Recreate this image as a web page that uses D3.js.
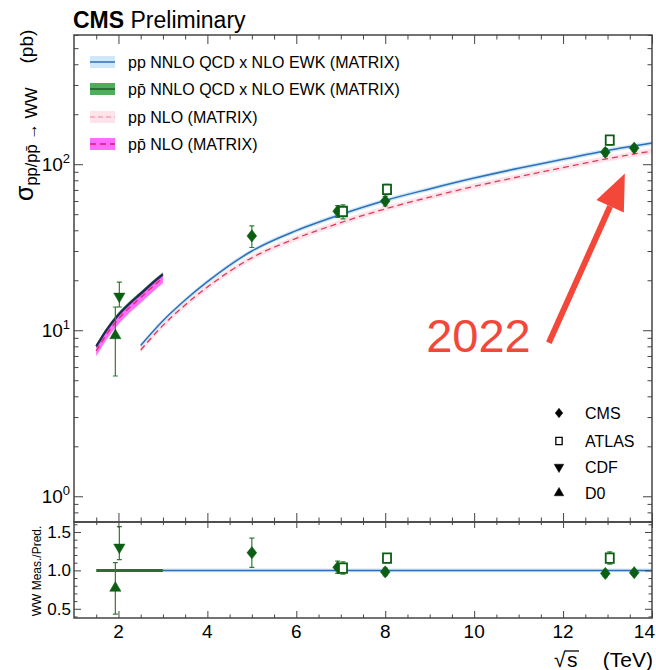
<!DOCTYPE html>
<html>
<head>
<meta charset="utf-8">
<script src="https://cdn.jsdelivr.net/npm/d3@7"></script>
<style>
  body { margin: 0; background: #fff; }
  svg { font-family: "Liberation Sans", Arial, sans-serif; }
</style>
</head>
<body>
<div id="chart"></div>
<script>
var W = 656, H = 670;

// theory curves, sqrt(s) in TeV, sigma in pb
var ppEnergy   = [2.5, 3, 3.5, 4, 5, 6, 7, 8, 9, 10, 11, 12, 13, 14];
var ppNNLO     = [8.1, 11.4, 15.2, 19.6, 30, 39.8, 49.8, 60.5, 71, 82.5, 94.5, 107, 121, 134];
var ppNLO      = [7.6, 10.7, 14.2, 18.2, 27.3, 35.8, 44.5, 53.8, 63.3, 73.5, 84, 95.5, 108, 120];
var ppbarEnergy = [1.5, 1.75, 2, 2.25, 2.5, 2.75, 3];
var ppbarNNLO   = [8.0, 10.2, 12.4, 14.5, 16.6, 19.1, 21.7];
var ppbarNLO    = [7.5, 9.6, 11.7, 13.7, 15.7, 18.1, 20.6];

// measurements
var cmsEnergy = [5, 6.93, 8, 12.95, 13.6];
var cmsXsec   = [37.0, 52.1, 60.0, 118, 125];
var cmsErr    = [5.5, 4.2, 4.0, 6, 5];
var cmsRatio    = [1.23, 1.04, 0.98, 0.96, 0.97];
var cmsRatioErr = [0.19, 0.08, 0.05, 0.04, 0.03];

var atlasEnergy = [7.05, 8.04, 13.05];
var atlasXsec   = [51.9, 70.6, 139.6];
var atlasErr    = [5, 5, 9];
var atlasRatio    = [1.03, 1.16, 1.16];
var atlasRatioErr = [0.08, 0.06, 0.08];

var cdfEnergy = [2.02];
var cdfXsec = [16.0], cdfUp = [3.5], cdfDn = [2.2];
var cdfRatio = [1.30], cdfRatioUp = [0.27], cdfRatioDn = [0.16];

var d0Energy = [1.93];
var d0Xsec = [9.3], d0Up = [4.5], d0Dn = [4.0];
var d0Ratio = [0.77], d0RatioUp = [0.33], d0RatioDn = [0.34];

var legendLabels = ["pp NNLO QCD x NLO EWK (MATRIX)", "pp\u0304 NNLO QCD x NLO EWK (MATRIX)",
                    "pp NLO (MATRIX)", "pp\u0304 NLO (MATRIX)"];
var expLabels = ["CMS", "ATLAS", "CDF", "D0"];

var xTicks = [2, 4, 6, 8, 10, 12, 14];
var yTicks = [1, 10, 100];
var rTicks = [0.5, 1.0, 1.5];

var green = "#0b5e12", errGreen = "#2f7d32";

var svg = d3.select("#chart").append("svg")
    .attr("width", W)
    .attr("height", H);

var L = 74, R = 652, T = 35, M = 522, B = 618;

var x = d3.scaleLinear().domain([1, 14]).range([L, R]);
var y = d3.scaleLog().domain([0.7, 600]).range([M, T]);
var yr = d3.scaleLinear().domain([0.38, 1.63]).range([B, M]);

function zip(xs, ys) { return xs.map(function(e, i) { return {e: e, v: ys[i]}; }); }

// ---------- theory bands and lines, main panel ----------
var main = svg.append("g");

function band(g, xs, vs, rel, fill, op) {
  var area = d3.area().curve(d3.curveMonotoneX)
      .x(function(d) { return x(d.e); })
      .y0(function(d) { return y(d.v * (1 - rel)); })
      .y1(function(d) { return y(d.v * (1 + rel)); });
  g.append("path").datum(zip(xs, vs))
      .attr("d", area).attr("fill", fill).attr("opacity", op);
}
function curve(g, xs, vs, color, w, dash) {
  var line = d3.line().curve(d3.curveMonotoneX)
      .x(function(d) { return x(d.e); })
      .y(function(d) { return y(d.v); });
  g.append("path").datum(zip(xs, vs))
      .attr("d", line).attr("fill", "none")
      .attr("stroke", color).attr("stroke-width", w)
      .attr("stroke-dasharray", dash || null);
}

band(main, ppEnergy, ppNLO, 0.04, "#fde3ea", 1);
band(main, ppEnergy, ppNNLO, 0.03, "#cfe8f8", 1);
curve(main, ppEnergy, ppNLO, "#dd3b5a", 1.3, "6,4");
curve(main, ppEnergy, ppNNLO, "#2f6fb8", 1.5);

band(main, ppbarEnergy, ppbarNNLO, 0.03, "#4fae5b", 1);
band(main, ppbarEnergy, ppbarNLO, 0.07, "#ff3cff", 0.75);
curve(main, ppbarEnergy, ppbarNLO, "#e0306e", 1.4, "6,4");
curve(main, ppbarEnergy, ppbarNNLO, "#1d2a55", 2.2);

// ---------- ratio panel lines ----------
var ratio = svg.append("g");
ratio.append("rect")
    .attr("x", x(3)).attr("width", x(14) - x(3))
    .attr("y", yr(1.025)).attr("height", yr(0.975) - yr(1.025))
    .attr("fill", "#cfe8f8");
ratio.append("line")
    .attr("x1", x(3)).attr("x2", x(14))
    .attr("y1", yr(1)).attr("y2", yr(1))
    .attr("stroke", "#2f6fb8").attr("stroke-width", 1.5);
ratio.append("line")
    .attr("x1", x(1.5)).attr("x2", x(3))
    .attr("y1", yr(1)).attr("y2", yr(1))
    .attr("stroke", "#2e6b3a").attr("stroke-width", 3);

// ---------- markers ----------
var wideDiamond = {
  draw: function(ctx, size) {
    var h = Math.sqrt(size) / 2;
    ctx.moveTo(0, -h); ctx.lineTo(h * 0.8, 0); ctx.lineTo(0, h); ctx.lineTo(-h * 0.8, 0); ctx.closePath();
  }
};
var openSquare = {
  draw: function(ctx, size) {
    var h = Math.sqrt(size) / 2;
    ctx.moveTo(-h * 0.85, -h); ctx.lineTo(h * 0.85, -h); ctx.lineTo(h * 0.85, h); ctx.lineTo(-h * 0.85, h); ctx.closePath();
  }
};

function errBars(g, pts, sy) {
  g.selectAll(null).data(pts).enter().append("path")
      .attr("d", function(d) {
        var px = x(d.e), a = sy(d.hi), b = sy(d.lo);
        return "M" + px + "," + a + "V" + b +
               "M" + (px - 2.5) + "," + a + "H" + (px + 2.5) +
               "M" + (px - 2.5) + "," + b + "H" + (px + 2.5);
      })
      .attr("stroke", errGreen).attr("stroke-width", 1.2).attr("fill", "none");
}

function series(g, sy, xs, vs, up, dn, type, size, rot, open) {
  var pts = xs.map(function(e, i) { return {e: e, v: vs[i], hi: vs[i] + up[i], lo: vs[i] - dn[i]}; });
  errBars(g, pts, sy);
  g.selectAll(null).data(pts).enter().append("path")
      .attr("d", d3.symbol().type(type).size(size))
      .attr("transform", function(d) { return "translate(" + x(d.e) + "," + sy(d.v) + ") rotate(" + rot + ")"; })
      .attr("fill", open ? "#fff" : green)
      .attr("stroke", green)
      .attr("stroke-width", open ? 1.8 : 0.5);
}

var pm = svg.append("g"), pr = svg.append("g");
series(pm, y, cmsEnergy, cmsXsec, cmsErr, cmsErr, wideDiamond, 150, 0, false);
series(pm, y, atlasEnergy, atlasXsec, atlasErr, atlasErr, openSquare, 90, 0, true);
series(pm, y, cdfEnergy, cdfXsec, cdfUp, cdfDn, d3.symbolTriangle, 55, 180, false);
series(pm, y, d0Energy, d0Xsec, d0Up, d0Dn, d3.symbolTriangle, 55, 0, false);

series(pr, yr, cmsEnergy, cmsRatio, cmsRatioErr, cmsRatioErr, wideDiamond, 150, 0, false);
series(pr, yr, atlasEnergy, atlasRatio, atlasRatioErr, atlasRatioErr, openSquare, 90, 0, true);
series(pr, yr, cdfEnergy, cdfRatio, cdfRatioUp, cdfRatioDn, d3.symbolTriangle, 55, 180, false);
series(pr, yr, d0Energy, d0Ratio, d0RatioUp, d0RatioDn, d3.symbolTriangle, 55, 0, false);

// ---------- frames and ticks ----------
var frameColor = "#444";
function tickAxis(axis, tx, ty, vals, len) {
  var g = svg.append("g").attr("transform", "translate(" + tx + "," + ty + ")")
      .call(axis.tickValues(vals).tickSizeInner(len).tickSizeOuter(0).tickFormat(""));
  g.select(".domain").remove();
  g.selectAll(".tick line").attr("stroke", frameColor).attr("stroke-width", 1);
  return g;
}
var xMinor = d3.range(1.5, 14.01, 0.5).filter(function(v) { return v % 2 !== 0; });
var yMinor = [0.7, 0.8, 0.9, 2, 3, 4, 5, 6, 7, 8, 9, 20, 30, 40, 50, 60, 70, 80, 90, 200, 300, 400, 500, 600];
var rMinor = d3.range(0.4, 1.61, 0.1).filter(function(v) { return Math.abs(v * 2 - Math.round(v * 2)) > 0.01; });

// main panel x ticks (top and bottom)
tickAxis(d3.axisTop(x), 0, T, xTicks, -9);
tickAxis(d3.axisTop(x), 0, T, xMinor, -4.5);
tickAxis(d3.axisBottom(x), 0, M, xTicks, -9);
tickAxis(d3.axisBottom(x), 0, M, xMinor, -4.5);
// main panel y ticks (left and right)
tickAxis(d3.axisLeft(y), L, 0, yTicks, -9);
tickAxis(d3.axisLeft(y), L, 0, yMinor, -4.5);
tickAxis(d3.axisRight(y), R, 0, yTicks, -9);
tickAxis(d3.axisRight(y), R, 0, yMinor, -4.5);
// ratio panel ticks
tickAxis(d3.axisTop(x), 0, M, xTicks, -6);
tickAxis(d3.axisTop(x), 0, M, xMinor, -3);
tickAxis(d3.axisBottom(x), 0, B, xTicks, -7);
tickAxis(d3.axisBottom(x), 0, B, xMinor, -3.5);
tickAxis(d3.axisLeft(yr), L, 0, rTicks, -7);
tickAxis(d3.axisLeft(yr), L, 0, rMinor, -3.5);
tickAxis(d3.axisRight(yr), R, 0, rTicks, -7);
tickAxis(d3.axisRight(yr), R, 0, rMinor, -3.5);

svg.append("rect").attr("x", L).attr("y", T).attr("width", R - L).attr("height", M - T)
    .attr("fill", "none").attr("stroke", frameColor).attr("stroke-width", 1.5);
svg.append("rect").attr("x", L).attr("y", M).attr("width", R - L).attr("height", B - M)
    .attr("fill", "none").attr("stroke", frameColor).attr("stroke-width", 1.5);

// x tick labels (last one pulled in so it stays on the page)
svg.append("g").selectAll("text").data(xTicks).enter().append("text")
    .attr("x", function(d) { return d === 14 ? 655 : x(d); })
    .attr("y", 638)
    .attr("text-anchor", function(d) { return d === 14 ? "end" : "middle"; })
    .attr("font-size", 19)
    .text(function(d) { return d; });

// y tick labels (10^n)
var yl = svg.append("g").selectAll("text").data(yTicks).enter().append("text")
    .attr("x", 70)
    .attr("y", function(d) { return y(d) + 7; })
    .attr("text-anchor", "end")
    .attr("font-size", 19);
yl.append("tspan").text("10");
yl.append("tspan").attr("dy", -8).attr("font-size", 13)
    .text(function(d) { return Math.round(Math.log10(d)); });

// ratio tick labels
svg.append("g").selectAll("text").data(rTicks).enter().append("text")
    .attr("x", 71)
    .attr("y", function(d) { return yr(d) + 6; })
    .attr("text-anchor", "end")
    .attr("font-size", 17)
    .text(function(d) { return d.toFixed(1); });

// axis titles
svg.append("text").attr("x", 554).attr("y", 667).attr("font-size", 21).text("\u221A");
svg.append("text").attr("x", 567).attr("y", 667).attr("font-size", 21).text("s");
svg.append("line").attr("x1", 565).attr("x2", 579).attr("y1", 651).attr("y2", 651)
    .attr("stroke", "#000").attr("stroke-width", 1.3);
svg.append("text").attr("x", 653).attr("y", 667)
    .attr("text-anchor", "end").attr("font-size", 21).text("(TeV)");

var yt = svg.append("text")
    .attr("transform", "translate(33,201) rotate(-90)")
    .attr("font-size", 19);
yt.append("tspan").attr("font-size", 25).text("\u03c3");
yt.append("tspan").attr("dy", 4).attr("font-size", 16.5).text("pp/pp\u0304 \u2192 WW");
yt.append("tspan").attr("dy", -4).attr("dx", 24).text("(pb)");

svg.append("text")
    .attr("transform", "translate(41,571) rotate(-90)")
    .attr("text-anchor", "middle")
    .attr("font-size", 12)
    .text("WW Meas./Pred.");

// header
var hdr = svg.append("text").attr("x", 73).attr("y", 28).attr("font-size", 23);
hdr.append("tspan").attr("font-weight", "bold").text("CMS");
hdr.append("tspan").text(" Preliminary");

// ---------- theory legend ----------
var legY = [62, 89, 117, 144];
var legend = svg.append("g");
var legStyle = [
  {fill: "#cfe8f8", op: 1, line: "#2f6fb8", dash: null, w: 1.5},
  {fill: "#4fae5b", op: 1, line: "#1f5a2a", dash: null, w: 1.5},
  {fill: "#fde3ea", op: 1, line: "#f3a7b8", dash: "5,3", w: 1.3},
  {fill: "#ff5cff", op: 0.9, line: "#d81b73", dash: "6,4", w: 1.5}
];
legendLabels.forEach(function(lbl, i) {
  var s = legStyle[i];
  legend.append("rect").attr("x", 90).attr("y", legY[i] - 6).attr("width", 25).attr("height", 12)
      .attr("fill", s.fill).attr("opacity", s.op);
  legend.append("line").attr("x1", 90).attr("x2", 115).attr("y1", legY[i]).attr("y2", legY[i])
      .attr("stroke", s.line).attr("stroke-width", s.w).attr("stroke-dasharray", s.dash);
  legend.append("text").attr("x", 128).attr("y", legY[i] + 6).attr("font-size", 16).text(lbl);
});

// ---------- experiment legend ----------
var expY = [413, 441, 467, 493];
var expShape = [
  {type: wideDiamond, size: 90, rot: 0, open: false},
  {type: openSquare, size: 55, rot: 0, open: true},
  {type: d3.symbolTriangle, size: 40, rot: 180, open: false},
  {type: d3.symbolTriangle, size: 40, rot: 0, open: false}
];
expLabels.forEach(function(lbl, i) {
  var s = expShape[i];
  legend.append("path")
      .attr("d", d3.symbol().type(s.type).size(s.size))
      .attr("transform", "translate(559," + expY[i] + ") rotate(" + s.rot + ")")
      .attr("fill", s.open ? "#fff" : "#000")
      .attr("stroke", "#000").attr("stroke-width", s.open ? 1.3 : 0.5);
  legend.append("text").attr("x", 585).attr("y", expY[i] + 6).attr("font-size", 16).text(lbl);
});

// ---------- 2022 annotation ----------
var arrowTail = {e: 11.68, v: 8.4}, arrowTip = {e: 13.39, v: 88};
var red = "#f3473a";
var ax0 = x(arrowTail.e), ay0 = y(arrowTail.v), ax1 = x(arrowTip.e), ay1 = y(arrowTip.v);
var ang = Math.atan2(ay1 - ay0, ax1 - ax0), hl = 36, hw = 15;
var bx = ax1 - hl * Math.cos(ang), by = ay1 - hl * Math.sin(ang);
svg.append("line").attr("x1", ax0).attr("y1", ay0).attr("x2", bx).attr("y2", by)
    .attr("stroke", red).attr("stroke-width", 6);
svg.append("path")
    .attr("d", "M" + ax1 + "," + ay1 +
               "L" + (bx + hw * Math.sin(ang)) + "," + (by - hw * Math.cos(ang)) +
               "L" + (bx - hw * Math.sin(ang)) + "," + (by + hw * Math.cos(ang)) + "Z")
    .attr("fill", red);
svg.append("text").attr("x", x(8.92)).attr("y", 352)
    .attr("font-size", 47).attr("fill", red).text("2022");
</script>
</body>
</html>
